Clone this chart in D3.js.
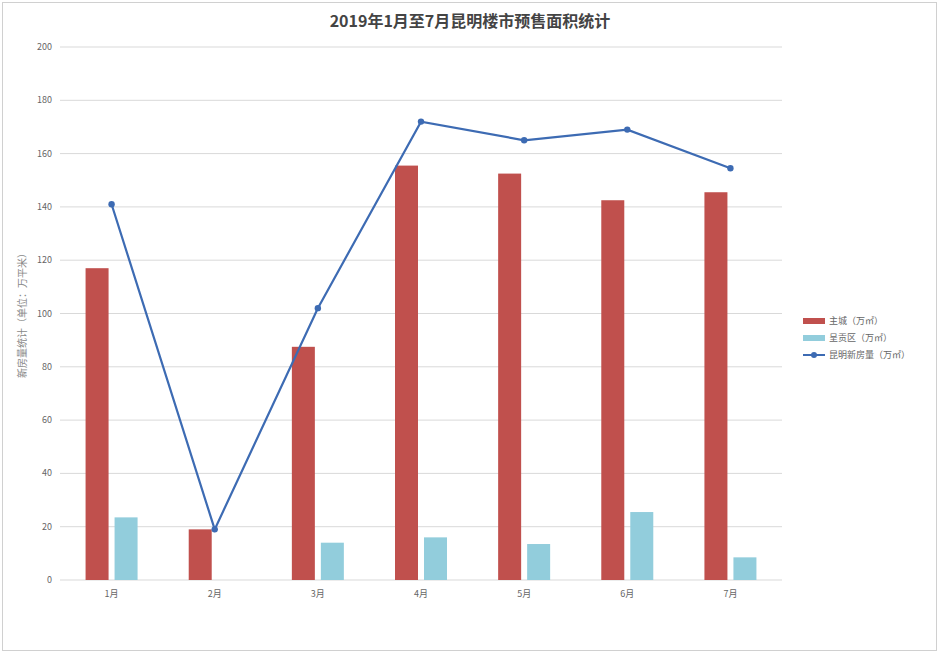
<!DOCTYPE html>
<html><head><meta charset="utf-8">
<script src="https://cdn.jsdelivr.net/npm/d3@7"></script>
<style>body{margin:0;background:#fff;font-family:"Noto Sans CJK SC",sans-serif;}</style>
</head><body><div id="chart"></div>
<script>
var months = ["1月","2月","3月","4月","5月","6月","7月"];
var mainCity = [117, 19, 87.5, 155.5, 152.5, 142.5, 145.5];
var chenggong = [23.5, 0, 14, 16, 13.5, 25.5, 8.5];
var total = [141, 19, 102, 172, 165, 169, 154.5];
var yTicks = [0,20,40,60,80,100,120,140,160,180,200];

var svg = d3.select("#chart").append("svg").attr("width", 940).attr("height", 654);
svg.append("rect").attr("x", 2.5).attr("y", 2.5).attr("width", 934).attr("height", 648)
    .attr("fill", "#fff").attr("stroke", "#d0d0d0");

var x = d3.scaleBand().domain(months).range([60, 782]);
var y = d3.scaleLinear().domain([0, 200]).range([580, 47]);

// 网格线
svg.append("g").selectAll("line").data(yTicks).enter().append("line")
    .attr("x1", 60).attr("x2", 782)
    .attr("y1", d => y(d)).attr("y2", d => y(d))
    .attr("stroke", "#d9d9d9");
svg.append("g").selectAll("text").data(yTicks).enter().append("text")
    .attr("x", 52).attr("y", d => y(d) + 3).attr("text-anchor", "end")
    .attr("font-size", 9).attr("fill", "#666").text(d => d);
svg.append("g").selectAll("text").data(months).enter().append("text")
    .attr("x", d => x(d) + x.bandwidth() / 2).attr("y", 597).attr("text-anchor", "middle")
    .attr("font-size", 9).attr("fill", "#666").text(d => d);

var bw = 23;
svg.append("g").selectAll("rect").data(mainCity).enter().append("rect")
    .attr("x", (d, i) => x(months[i]) + x.bandwidth() / 2 - bw - 3)
    .attr("y", d => y(d)).attr("width", bw).attr("height", d => y(0) - y(d))
    .attr("fill", "#c0504d");
svg.append("g").selectAll("rect").data(chenggong).enter().append("rect")
    .attr("x", (d, i) => x(months[i]) + x.bandwidth() / 2 + 3)
    .attr("y", d => y(d)).attr("width", bw).attr("height", d => y(0) - y(d))
    .attr("fill", "#92cddc");

var line = d3.line().x((d, i) => x(months[i]) + x.bandwidth() / 2).y(d => y(d));
svg.append("path").datum(total).attr("d", line)
    .attr("fill", "none").attr("stroke", "#3d6bb3").attr("stroke-width", 2.2);
svg.append("g").selectAll("circle").data(total).enter().append("circle")
    .attr("cx", (d, i) => x(months[i]) + x.bandwidth() / 2).attr("cy", d => y(d))
    .attr("r", 3.2).attr("fill", "#3d6bb3");

svg.append("text").attr("x", 470).attr("y", 27).attr("text-anchor", "middle")
    .attr("font-size", 16).attr("font-weight", "bold").attr("fill", "#444")
    .text("2019年1月至7月昆明楼市预售面积统计");
svg.append("text").attr("transform", "translate(26,313) rotate(-90)")
    .attr("text-anchor", "middle").attr("font-size", 10).attr("fill", "#888")
    .text("新房量统计（单位：万平米）");

// 图例
var lg = svg.append("g").attr("transform", "translate(803,321)");
lg.append("rect").attr("x", 0).attr("y", -3).attr("width", 22).attr("height", 6).attr("fill", "#c0504d");
lg.append("rect").attr("x", 0).attr("y", 14).attr("width", 22).attr("height", 6).attr("fill", "#92cddc");
lg.append("line").attr("x1", 0).attr("x2", 22).attr("y1", 34).attr("y2", 34).attr("stroke", "#3d6bb3").attr("stroke-width", 2);
lg.append("circle").attr("cx", 11).attr("cy", 34).attr("r", 3).attr("fill", "#3d6bb3");
["主城（万㎡）", "呈贡区（万㎡）", "昆明新房量（万㎡）"].forEach(function(t, i) {
    lg.append("text").attr("x", 26).attr("y", 3 + i * 17).attr("font-size", 9).attr("fill", "#666").text(t);
});
</script>
</body></html>
